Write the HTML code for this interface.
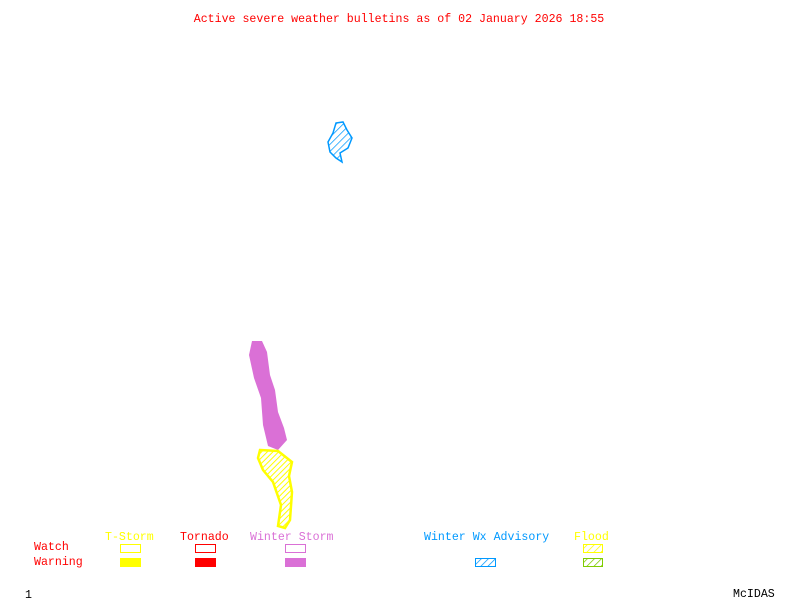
<!DOCTYPE html>
<html><head><style>
body{margin:0;background:#fff;width:800px;height:600px;overflow:hidden}
svg text{font-family:"Liberation Mono",monospace;font-size:11.6px}
</style></head><body>
<svg width="800" height="600" xmlns="http://www.w3.org/2000/svg">
<defs>
<pattern id="hb" width="5" height="5" patternUnits="userSpaceOnUse" patternTransform="rotate(45)"><rect width="5" height="5" fill="#fff"/><line x1="0" y1="0" x2="0" y2="5" stroke="#0099ff" stroke-width="1.5"/></pattern>
<pattern id="hy" width="5" height="5" patternUnits="userSpaceOnUse" patternTransform="rotate(45)"><rect width="5" height="5" fill="#fff"/><line x1="0" y1="0" x2="0" y2="5" stroke="#ffff00" stroke-width="1.5"/></pattern>
<pattern id="hg" width="5" height="5" patternUnits="userSpaceOnUse" patternTransform="rotate(45)"><rect width="5" height="5" fill="#fff"/><line x1="0" y1="0" x2="0" y2="5" stroke="#7fcc00" stroke-width="1.5"/></pattern>
<pattern id="hy2" width="4" height="4" patternUnits="userSpaceOnUse" patternTransform="rotate(45)"><rect width="4" height="4" fill="#fff"/><line x1="0" y1="0" x2="0" y2="4" stroke="#ffff00" stroke-width="2"/></pattern>
</defs>
<text x="399" y="22" fill="#ff0000" text-anchor="middle">Active severe weather bulletins as of 02 January 2026 18:55</text>
<polygon points="336,123 343,122 347,130 352,138 348,148 340,153 342,162 336,158 330,152 328,142 333,133" fill="url(#hb)" stroke="#0099ff" stroke-width="1.5"/>
<polygon points="252,341 262,341 267,352 270,375 275,390 278,412 284,428 287,440 278,450 268,446 263,425 261,398 254,378 249,355" fill="#da70d6"/>
<polygon points="260,450 278,451 292,462 289,476 292,492 290,520 285,528 278,526 281,505 273,482 263,470 258,458" fill="url(#hy2)" stroke="#ffff00" stroke-width="2.5"/>
<text x="105" y="540" fill="#ffff00">T-Storm</text>
<text x="180" y="540" fill="#ff0000">Tornado</text>
<text x="250" y="540" fill="#da70d6">Winter Storm</text>
<text x="424" y="540" fill="#0099ff">Winter Wx Advisory</text>
<text x="574" y="540" fill="#ffff00">Flood</text>
<text x="34" y="550" fill="#ff0000">Watch</text>
<text x="34" y="565" fill="#ff0000">Warning</text>
<rect x="120.5" y="544.5" width="20" height="8" fill="none" stroke="#ffff00"/>
<rect x="195.5" y="544.5" width="20" height="8" fill="none" stroke="#ff0000"/>
<rect x="285.5" y="544.5" width="20" height="8" fill="none" stroke="#da70d6"/>
<rect x="583.5" y="544.5" width="19" height="8" fill="url(#hy)" stroke="#ffff00"/>
<rect x="120" y="558" width="21" height="9" fill="#ffff00"/>
<rect x="195" y="558" width="21" height="9" fill="#ff0000"/>
<rect x="285" y="558" width="21" height="9" fill="#da70d6"/>
<rect x="475.5" y="558.5" width="20" height="8" fill="url(#hb)" stroke="#0099ff"/>
<rect x="583.5" y="558.5" width="19" height="8" fill="url(#hg)" stroke="#7fcc00"/>
<text x="25" y="598" fill="#000">1</text>
<text x="733" y="597" fill="#000">McIDAS</text>
</svg>
</body></html>
